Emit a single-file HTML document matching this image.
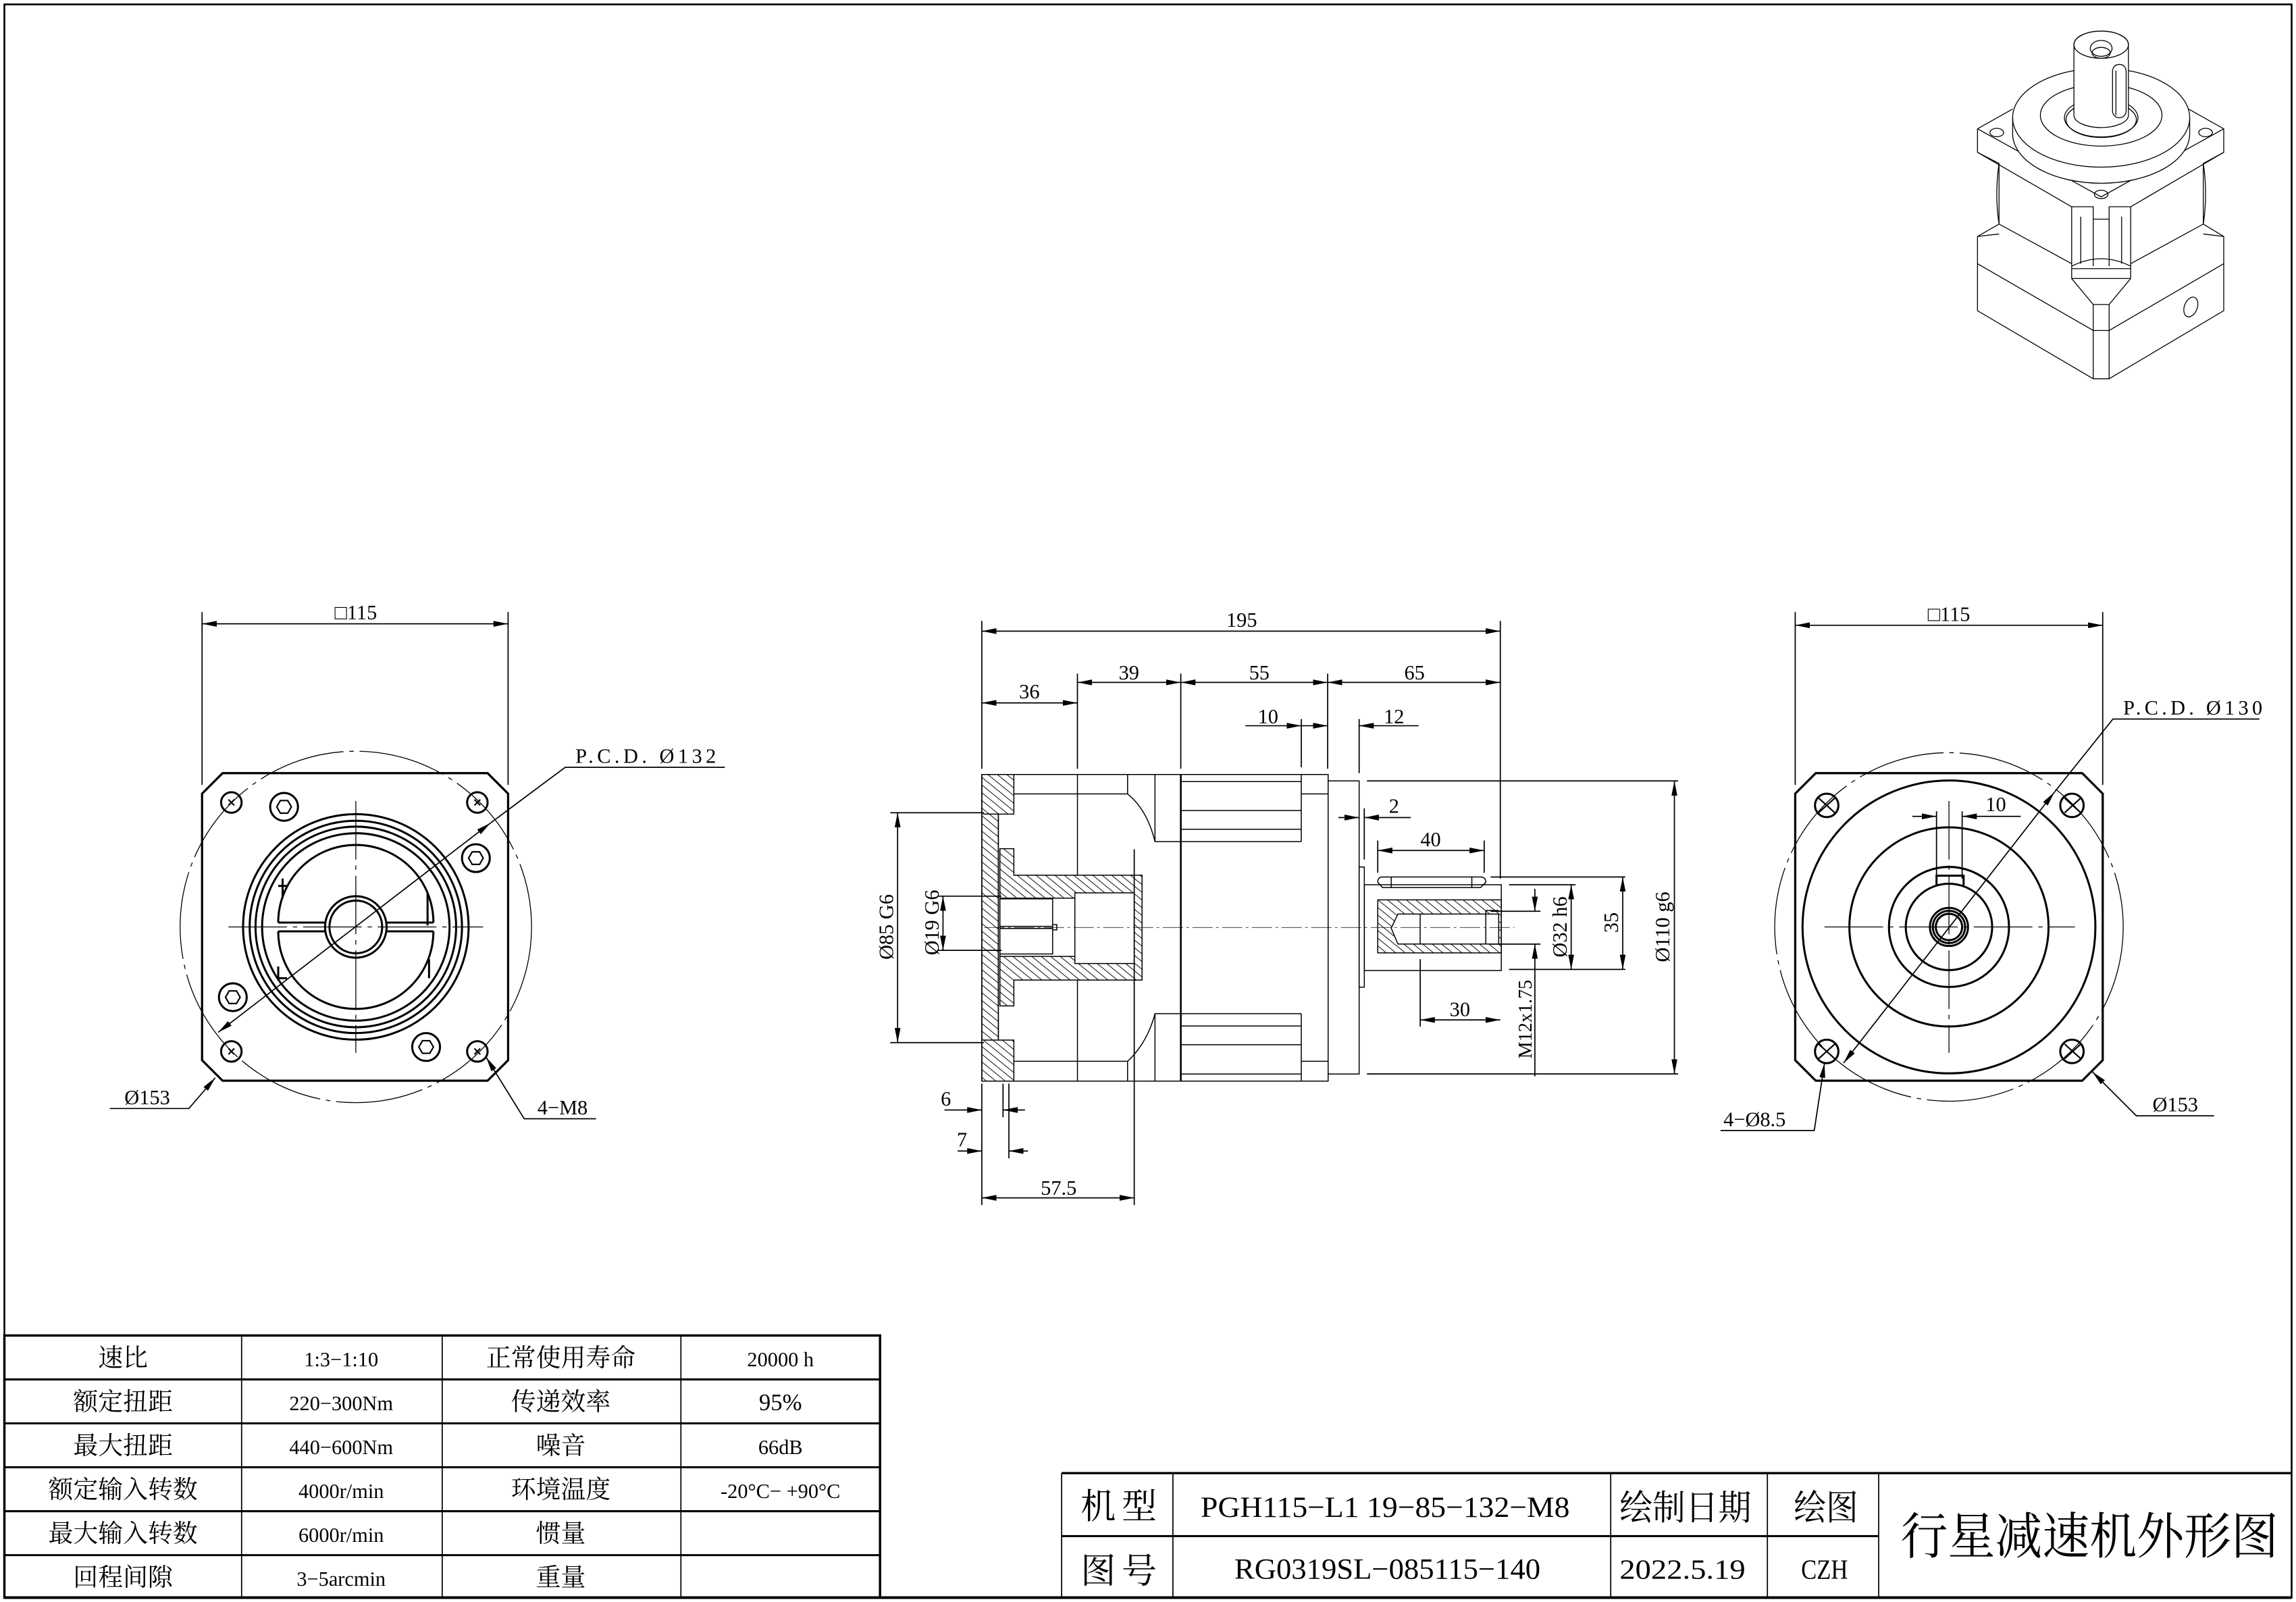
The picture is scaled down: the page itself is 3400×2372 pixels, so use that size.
<!DOCTYPE html>
<html><head><meta charset="utf-8"><style>
html,body{margin:0;padding:0;background:#fff}
svg{display:block}
text{font-family:"Liberation Serif","Noto Serif CJK SC",serif;fill:#000}
.cn{font-family:"Liberation Serif","Noto Serif CJK SC",serif}
</style></head><body>
<svg width="3400" height="2372" viewBox="0 0 1568 1094" preserveAspectRatio="none" xmlns="http://www.w3.org/2000/svg">
<defs>
<marker id="a" viewBox="0 0 10 4" refX="10" refY="2" markerWidth="10" markerHeight="4" markerUnits="userSpaceOnUse" orient="auto-start-reverse"><path d="M0,0 L10,2 L0,4z" fill="#000"/></marker>
<pattern id="h" patternUnits="userSpaceOnUse" width="14" height="14" patternTransform="rotate(-40)"><line x1="0" y1="0" x2="0" y2="14" stroke="#000" stroke-width="3"/></pattern>
</defs>
<rect width="1568" height="1094" fill="#fff"/>
<!-- border -->
<rect x="3" y="3" width="1562" height="1088" fill="none" stroke="#000" stroke-width="1.2"/>

<!-- spec table -->
<g stroke="#000" fill="none">
<rect x="3" y="912" width="598" height="179" stroke-width="1.6"/>
<g stroke-width="1.4">
<line x1="3" y1="942" x2="601" y2="942"/><line x1="3" y1="972" x2="601" y2="972"/><line x1="3" y1="1002" x2="601" y2="1002"/><line x1="3" y1="1032" x2="601" y2="1032"/><line x1="3" y1="1062" x2="601" y2="1062"/>
</g>
<g stroke-width="0.8">
<line x1="165" y1="912" x2="165" y2="1091"/><line x1="302" y1="912" x2="302" y2="1091"/><line x1="465" y1="912" x2="465" y2="1091"/>
</g>
</g>
<g font-size="17" text-anchor="middle" class="cn">
<text x="84" y="933">速比</text><text x="233" y="933" font-size="14">1:3−1:10</text><text x="383" y="933">正常使用寿命</text><text x="533" y="933" font-size="14">20000 h</text>
<text x="84" y="963">额定扭距</text><text x="233" y="963" font-size="14">220−300Nm</text><text x="383" y="963">传递效率</text><text x="533" y="963" font-size="16">95%</text>
<text x="84" y="993">最大扭距</text><text x="233" y="993" font-size="14">440−600Nm</text><text x="383" y="993">噪音</text><text x="533" y="993" font-size="14">66dB</text>
<text x="84" y="1023">额定输入转数</text><text x="233" y="1023" font-size="14">4000r/min</text><text x="383" y="1023">环境温度</text><text x="533" y="1023" font-size="14">-20°C− +90°C</text>
<text x="84" y="1053">最大输入转数</text><text x="233" y="1053" font-size="14">6000r/min</text><text x="383" y="1053">惯量</text>
<text x="84" y="1083">回程间隙</text><text x="233" y="1083" font-size="14">3−5arcmin</text><text x="383" y="1083">重量</text>
</g>

<!-- title block -->
<g stroke="#000" fill="none">
<line x1="725" y1="1006" x2="1565" y2="1006" stroke-width="1.6"/>
<line x1="725" y1="1006" x2="725" y2="1091" stroke-width="0.8"/>
<line x1="725" y1="1049" x2="1283" y2="1049" stroke-width="1.4"/>
<line x1="801" y1="1006" x2="801" y2="1091" stroke-width="0.8"/><line x1="1100" y1="1006" x2="1100" y2="1091" stroke-width="0.8"/><line x1="1207" y1="1006" x2="1207" y2="1091" stroke-width="0.8"/><line x1="1283" y1="1006" x2="1283" y2="1091" stroke-width="0.8"/>
<line x1="3" y1="1091" x2="1565" y2="1091" stroke-width="1.8"/>
</g>
<g class="cn">
<text x="738" y="1037" font-size="24" textLength="52" lengthAdjust="spacing">机 型</text>
<text x="820" y="1036" font-size="20" textLength="252" lengthAdjust="spacingAndGlyphs">PGH115−L1 19−85−132−M8</text>
<text x="1106" y="1038" font-size="24" textLength="90" lengthAdjust="spacingAndGlyphs">绘制日期</text>
<text x="1225" y="1038" font-size="24" textLength="44" lengthAdjust="spacingAndGlyphs">绘图</text>
<text x="738" y="1081" font-size="24" textLength="52" lengthAdjust="spacing">图 号</text>
<text x="843" y="1078" font-size="20" textLength="209" lengthAdjust="spacingAndGlyphs">RG0319SL−085115−140</text>
<text x="1106" y="1078" font-size="19" textLength="86" lengthAdjust="spacingAndGlyphs">2022.5.19</text>
<text x="1230" y="1078" font-size="19" textLength="32" lengthAdjust="spacingAndGlyphs">CZH</text>
<text x="1298" y="1061" font-size="34" textLength="258" lengthAdjust="spacingAndGlyphs">行星减速机外形图</text>
</g>

<!-- ============ LEFT VIEW ============ -->
<g stroke="#000" fill="none">
<path d="M152,528 L333,528 L347,542 L347,724 L333,738 L152,738 L138,724 L138,542 Z" stroke-width="1.5"/>
<circle cx="243" cy="633" r="120" stroke-width="0.6" stroke-dasharray="60 4 3 4"/>
<g stroke-width="1.4">
<circle cx="243" cy="633" r="77"/><circle cx="243" cy="633" r="72.5"/><circle cx="243" cy="633" r="68.5"/><circle cx="243" cy="633" r="64"/>
<path d="M190,630 A53,53 0 0 1 296,630"/><path d="M190,636 A53,53 0 0 0 296,636"/>
<path d="M193,600 L193,613 M190,605 L196,605 M292,632 L292,610 M190,660 L190,668 L196,668 M293,655 L293,668"/>
<circle cx="243" cy="633" r="21"/><circle cx="243" cy="633" r="18"/>
<line x1="190" y1="630" x2="222" y2="630"/><line x1="264" y1="630" x2="296" y2="630"/><line x1="190" y1="636" x2="222" y2="636"/><line x1="264" y1="636" x2="296" y2="636"/>
<circle cx="158" cy="548" r="7"/><circle cx="326" cy="548" r="7"/><circle cx="158" cy="718" r="7"/><circle cx="326" cy="718" r="7"/>
<circle cx="194" cy="551" r="9.5"/><circle cx="325" cy="586" r="9.5"/><circle cx="159" cy="681" r="9.5"/><circle cx="291" cy="715" r="9.5"/>
</g>
<g stroke-width="1">
<path d="M189,551 l2.5,-4.3 h5 l2.5,4.3 l-2.5,4.3 h-5z"/><path d="M320,586 l2.5,-4.3 h5 l2.5,4.3 l-2.5,4.3 h-5z"/><path d="M154,681 l2.5,-4.3 h5 l2.5,4.3 l-2.5,4.3 h-5z"/><path d="M286,715 l2.5,-4.3 h5 l2.5,4.3 l-2.5,4.3 h-5z"/>
<path d="M156,546 l4,4 M160,546 l-4,4 M324,546 l4,4 M328,546 l-4,4 M156,716 l4,4 M160,716 l-4,4 M324,716 l4,4 M328,716 l-4,4"/>
</g>
<g stroke-width="0.6" stroke-dasharray="40 4 3 4">
<line x1="156" y1="633" x2="330" y2="633"/><line x1="243" y1="547" x2="243" y2="719"/>
</g>
<g stroke-width="0.8">
<line x1="138" y1="418" x2="138" y2="536"/><line x1="347" y1="418" x2="347" y2="536"/>
<line x1="138" y1="426" x2="347" y2="426" marker-start="url(#a)" marker-end="url(#a)"/>
<line x1="149" y1="705" x2="335" y2="562" marker-start="url(#a)" marker-end="url(#a)"/>
<polyline points="335,562 386,524 495,524"/>
<polyline points="147,736 129,757 75,757" marker-start="url(#a)"/>
<polyline points="332,722 358,764 407,764" marker-start="url(#a)"/>
</g>
</g>
<g font-size="14">
<text x="243" y="423" text-anchor="middle">□115</text>
<text x="393" y="521" textLength="96" lengthAdjust="spacing">P.C.D.  Ø132</text>
<text x="85" y="754">Ø153</text>
<text x="367" y="761">4−M8</text>
</g>

<!-- ============ RIGHT VIEW ============ -->
<g stroke="#000" fill="none">
<path d="M1240,528 L1422,528 L1436,542 L1436,724 L1422,738 L1240,738 L1226,724 L1226,542 Z" stroke-width="1.5"/>
<circle cx="1331" cy="633" r="119" stroke-width="0.6" stroke-dasharray="60 4 3 4"/>
<g stroke-width="1.4">
<circle cx="1331" cy="633" r="100"/><circle cx="1331" cy="633" r="68"/><circle cx="1331" cy="633" r="41"/><circle cx="1331" cy="633" r="29.5"/>
<circle cx="1331" cy="633" r="13"/><circle cx="1331" cy="633" r="11"/><circle cx="1331" cy="633" r="9"/>
<path d="M1322.5,604.5 L1322.5,598 L1341,598 L1341,604.5"/>
<circle cx="1247.5" cy="550" r="8"/><circle cx="1415" cy="550" r="8"/><circle cx="1247.5" cy="718" r="8"/><circle cx="1415" cy="718" r="8"/>
<path d="M1242,545 l11,10 M1253,545 l-11,10 M1410,545 l11,10 M1421,545 l-11,10 M1242,713 l11,10 M1253,713 l-11,10 M1410,713 l11,10 M1421,713 l-11,10" stroke-width="1"/>
</g>
<g stroke-width="0.6" stroke-dasharray="40 4 3 4">
<line x1="1246" y1="633" x2="1417" y2="633"/><line x1="1331" y1="547" x2="1331" y2="719"/>
</g>
<g stroke-width="0.8">
<line x1="1226" y1="418" x2="1226" y2="536"/><line x1="1436" y1="418" x2="1436" y2="536"/>
<line x1="1226" y1="427" x2="1436" y2="427" marker-start="url(#a)" marker-end="url(#a)"/>
<line x1="1322.5" y1="554" x2="1322.5" y2="600"/><line x1="1340" y1="554" x2="1340" y2="600"/>
<line x1="1306" y1="557.5" x2="1322.5" y2="557.5" marker-end="url(#a)"/>
<line x1="1380" y1="557.5" x2="1340" y2="557.5" marker-end="url(#a)"/>
<line x1="1259" y1="726" x2="1403" y2="541" marker-start="url(#a)" marker-end="url(#a)"/>
<polyline points="1403,541 1443,491 1543,491"/>
<polyline points="1429,732 1459,762 1512,762" marker-start="url(#a)"/>
<polyline points="1246,726 1239,772 1175,772" marker-start="url(#a)"/>
</g>
</g>
<g font-size="14">
<text x="1331" y="424" text-anchor="middle">□115</text>
<text x="1356" y="554">10</text>
<text x="1450" y="488" textLength="95" lengthAdjust="spacing">P.C.D.  Ø130</text>
<text x="1470" y="759">Ø153</text>
<text x="1177" y="769">4−Ø8.5</text>
</g>

<!-- ============ MIDDLE VIEW (zoom coords) ============ -->
<g transform="translate(645.8,405.9) scale(0.353,0.2412)" stroke="#000" fill="none">
<g vector-effect="non-scaling-stroke" stroke-width="1.5">
<path vector-effect="non-scaling-stroke" d="M70,510 H132 V622 H102 V1262 H132 V1378 H70 Z" fill="url(#h)"/>
<path vector-effect="non-scaling-stroke" d="M72,622 H102 V1262 H72" />
<path vector-effect="non-scaling-stroke" fill-rule="evenodd" fill="url(#h)" d="M105,720 H132 V795 H380 V1092 H132 V1165 H105 Z M105,860 H250 V1025 H105 Z M250,845 H365 V1045 H250 Z"/>
<path vector-effect="non-scaling-stroke" d="M105,862 H207 V1018 H105 M207,935 H215 V950 H207 M105,940 H207 M105,946 H207"/>
<rect vector-effect="non-scaling-stroke" x="70" y="510" width="670" height="868"/>
<path vector-effect="non-scaling-stroke" d="M132,565 H352 Q390,610 405,700 H455 M132,1322 H352 Q390,1270 405,1187 H455"/>
<path vector-effect="non-scaling-stroke" d="M255,510 V795 M255,1092 V1378 M352,510 V565 M352,1322 V1378 M405,510 V700 M405,1187 V1378 M365,1092 V1378"/>
<path vector-effect="non-scaling-stroke" d="M455,510 V1378" stroke-width="2.6"/>
<path vector-effect="non-scaling-stroke" d="M455,530 H688 M455,612 H688 M455,665 H688 M455,700 H688 M688,510 V700 M688,565 H740 M455,1187 H688 M455,1222 H688 M455,1275 H688 M455,1358 H688 M688,1187 V1378 M688,1322 H740"/>
<rect vector-effect="non-scaling-stroke" x="740" y="528" width="60" height="830"/>
<rect vector-effect="non-scaling-stroke" x="800" y="772" width="10" height="340"/>
<rect vector-effect="non-scaling-stroke" x="810" y="822" width="265" height="243"/>
<path vector-effect="non-scaling-stroke" d="M845,800 H1035 Q1045,800 1045,815 L1035,830 H845 L836,815 Q836,800 845,800 Z M862,800 L862,830 M1018,800 L1018,830"/>
<path vector-effect="non-scaling-stroke" fill-rule="evenodd" fill="url(#h)" d="M836,865 H1075 V1015 H836 Z M1070,905 H875 L862,945 L875,990 H1070 Z"/>
<path vector-effect="non-scaling-stroke" d="M918,905 V990 M1045,895 V990 M1045,895 H1070"/>
</g>
<line vector-effect="non-scaling-stroke" x1="75" y1="943" x2="1100" y2="943" stroke-width="0.7" stroke-dasharray="30 5 4 5"/>
</g>

<!-- middle dimensions -->
<g stroke="#000" fill="none" stroke-width="0.8">
<line x1="670.5" y1="424" x2="670.5" y2="525"/><line x1="1024.6" y1="424" x2="1024.6" y2="600"/>
<line x1="670.5" y1="431" x2="1024.6" y2="431" marker-start="url(#a)" marker-end="url(#a)"/>
<line x1="735.8" y1="460" x2="735.8" y2="525"/><line x1="806.4" y1="460" x2="806.4" y2="525"/><line x1="906.7" y1="460" x2="906.7" y2="525"/>
<line x1="670.5" y1="480" x2="735.8" y2="480" marker-start="url(#a)" marker-end="url(#a)"/>
<line x1="735.8" y1="466" x2="806.4" y2="466" marker-start="url(#a)" marker-end="url(#a)"/>
<line x1="806.4" y1="466" x2="906.7" y2="466" marker-start="url(#a)" marker-end="url(#a)"/>
<line x1="906.7" y1="466" x2="1024.6" y2="466" marker-start="url(#a)" marker-end="url(#a)"/>
<line x1="888.7" y1="491" x2="888.7" y2="524"/><line x1="928.2" y1="491" x2="928.2" y2="528"/>
<line x1="850.5" y1="495.6" x2="888.7" y2="495.6" marker-end="url(#a)"/>
<line x1="888.7" y1="495.6" x2="906.7" y2="495.6" marker-end="url(#a)"/>
<line x1="968.8" y1="495.6" x2="928.2" y2="495.6" marker-end="url(#a)"/>
<line x1="931.7" y1="552" x2="931.7" y2="587"/>
<line x1="914" y1="558.3" x2="928.2" y2="558.3" marker-end="url(#a)"/>
<line x1="963.5" y1="558.3" x2="931.7" y2="558.3" marker-end="url(#a)"/>
<line x1="940.9" y1="574" x2="940.9" y2="596"/><line x1="1013.6" y1="574" x2="1013.6" y2="596"/>
<line x1="940.9" y1="580.8" x2="1013.6" y2="580.8" marker-start="url(#a)" marker-end="url(#a)"/>
<line x1="1018" y1="598.9" x2="1110" y2="598.9"/><line x1="1030.6" y1="662" x2="1110" y2="662"/>
<line x1="1108.2" y1="598.9" x2="1108.2" y2="662" marker-start="url(#a)" marker-end="url(#a)"/>
<line x1="1030.6" y1="604.2" x2="1076" y2="604.2"/>
<line x1="1073" y1="604.2" x2="1073" y2="662" marker-start="url(#a)" marker-end="url(#a)"/>
<line x1="1018" y1="622.3" x2="1052" y2="622.3"/><line x1="1018" y1="644.7" x2="1052" y2="644.7"/>
<line x1="1048.2" y1="607" x2="1048.2" y2="622.3" marker-end="url(#a)"/>
<line x1="1048.2" y1="735" x2="1048.2" y2="644.7" marker-end="url(#a)"/>
<line x1="933.5" y1="533.3" x2="1146" y2="533.3"/><line x1="933.5" y1="733.4" x2="1146" y2="733.4"/>
<line x1="1143.5" y1="533.3" x2="1143.5" y2="733.4" marker-start="url(#a)" marker-end="url(#a)"/>
<line x1="969.9" y1="655" x2="969.9" y2="701"/>
<line x1="969.9" y1="696.5" x2="1024.6" y2="696.5" marker-start="url(#a)" marker-end="url(#a)"/>
<line x1="608" y1="555" x2="672" y2="555"/><line x1="608" y1="712" x2="672" y2="712"/>
<line x1="613" y1="555" x2="613" y2="712" marker-start="url(#a)" marker-end="url(#a)"/>
<line x1="640" y1="612" x2="684" y2="612"/><line x1="640" y1="649" x2="684" y2="649"/>
<line x1="644" y1="612" x2="644" y2="649" marker-start="url(#a)" marker-end="url(#a)"/>
<line x1="670.5" y1="740" x2="670.5" y2="823"/><line x1="685" y1="740" x2="685" y2="763"/><line x1="689" y1="740" x2="689" y2="791"/><line x1="774.6" y1="580" x2="774.6" y2="823"/>
<line x1="645" y1="758" x2="670.5" y2="758" marker-end="url(#a)"/>
<line x1="700" y1="758" x2="685" y2="758" marker-end="url(#a)"/>
<line x1="654" y1="786" x2="670.5" y2="786" marker-end="url(#a)"/>
<line x1="702" y1="786" x2="689" y2="786" marker-end="url(#a)"/>
<line x1="670.5" y1="818" x2="774.6" y2="818" marker-start="url(#a)" marker-end="url(#a)"/>
</g>
<g font-size="14">
<text x="848" y="428" text-anchor="middle">195</text>
<text x="703" y="477" text-anchor="middle">36</text>
<text x="771" y="464" text-anchor="middle">39</text>
<text x="860" y="464" text-anchor="middle">55</text>
<text x="966" y="464" text-anchor="middle">65</text>
<text x="866" y="494" text-anchor="middle">10</text>
<text x="952" y="494" text-anchor="middle">12</text>
<text x="952" y="555" text-anchor="middle">2</text>
<text x="977" y="578" text-anchor="middle">40</text>
<text x="997" y="694" text-anchor="middle">30</text>
<text x="646" y="755" text-anchor="middle">6</text>
<text x="657" y="783" text-anchor="middle">7</text>
<text x="723" y="816" text-anchor="middle">57.5</text>
<text transform="translate(1105,630) rotate(-90)" text-anchor="middle">35</text>
<text transform="translate(1070,633) rotate(-90)" text-anchor="middle">Ø32 h6</text>
<text transform="translate(1046,696) rotate(-90)" text-anchor="middle" font-size="13">M12x1.75</text>
<text transform="translate(1140,633) rotate(-90)" text-anchor="middle">Ø110 g6</text>
<text transform="translate(610,633) rotate(-90)" text-anchor="middle">Ø85 G6</text>
<text transform="translate(641,630) rotate(-90)" text-anchor="middle">Ø19 G6</text>
</g>

<!-- ============ ISO VIEW ============ -->
<g transform="translate(1328,6) scale(0.155,0.169)" stroke="#000" fill="none">
<g stroke-width="1.3">
<path vector-effect="non-scaling-stroke" d="M300,405 L145,485 L145,580 L240,625 L240,870 L560,1030 M820,1030 L1140,870 L1140,625 L1230,580 L1230,485 L1075,405"/>
<path vector-effect="non-scaling-stroke" d="M145,485 L690,760 L1230,485 M145,580 L560,800 M820,800 L1230,580"/>
<path vector-effect="non-scaling-stroke" d="M560,800 L655,800 L655,1040 M725,1040 L725,800 L820,800 M560,800 V1090 M820,800 V1090 M600,840 V1030 M780,840 V1030 M655,850 H725 M560,1040 Q690,980 820,1040 M560,1050 H820 M560,1090 H820"/>
<path vector-effect="non-scaling-stroke" d="M240,870 L145,920 L145,1220 L655,1495 H725 L1230,1220 L1230,920 L1140,870 M145,920 L240,910 M1230,920 L1140,910 M145,1030 L655,1300 H725 L1230,1030 M560,1090 L655,1195 V1495 M820,1090 L725,1195 V1495 M655,1195 H725"/>
<path vector-effect="non-scaling-stroke" d="M240,625 Q220,750 240,870 M1140,625 Q1160,750 1140,870"/>
<path vector-effect="non-scaling-stroke" fill="#fff" d="M300,440 A390,200 0 0 1 1080,440 V505 A390,200 0 0 1 300,505 Z"/>
<path vector-effect="non-scaling-stroke" d="M300,440 A390,200 0 0 0 1080,440"/>
<ellipse vector-effect="non-scaling-stroke" cx="690" cy="430" rx="268" ry="125"/>
<ellipse vector-effect="non-scaling-stroke" cx="690" cy="440" rx="162" ry="78" fill="#fff"/>
<ellipse vector-effect="non-scaling-stroke" cx="690" cy="448" rx="155" ry="72"/>
<path vector-effect="non-scaling-stroke" fill="#fff" d="M570,145 A120,55 0 0 1 810,145 V430 A120,50 0 0 1 570,430 Z"/>
<ellipse vector-effect="non-scaling-stroke" cx="690" cy="145" rx="120" ry="55"/>
<ellipse vector-effect="non-scaling-stroke" cx="690" cy="160" rx="48" ry="32"/>
<ellipse vector-effect="non-scaling-stroke" cx="690" cy="178" rx="40" ry="22"/>
<rect vector-effect="non-scaling-stroke" x="740" y="225" width="60" height="215" rx="28"/>
<line vector-effect="non-scaling-stroke" x1="755" y1="250" x2="755" y2="430"/>
<ellipse vector-effect="non-scaling-stroke" cx="230" cy="500" rx="30" ry="17"/>
<ellipse vector-effect="non-scaling-stroke" cx="1150" cy="500" rx="30" ry="17"/>
<ellipse vector-effect="non-scaling-stroke" cx="690" cy="750" rx="30" ry="17"/>
<ellipse vector-effect="non-scaling-stroke" cx="1085" cy="1205" rx="28" ry="42" transform="rotate(25 1085 1205)"/>
</g>
</g>
</svg>
</body></html>
